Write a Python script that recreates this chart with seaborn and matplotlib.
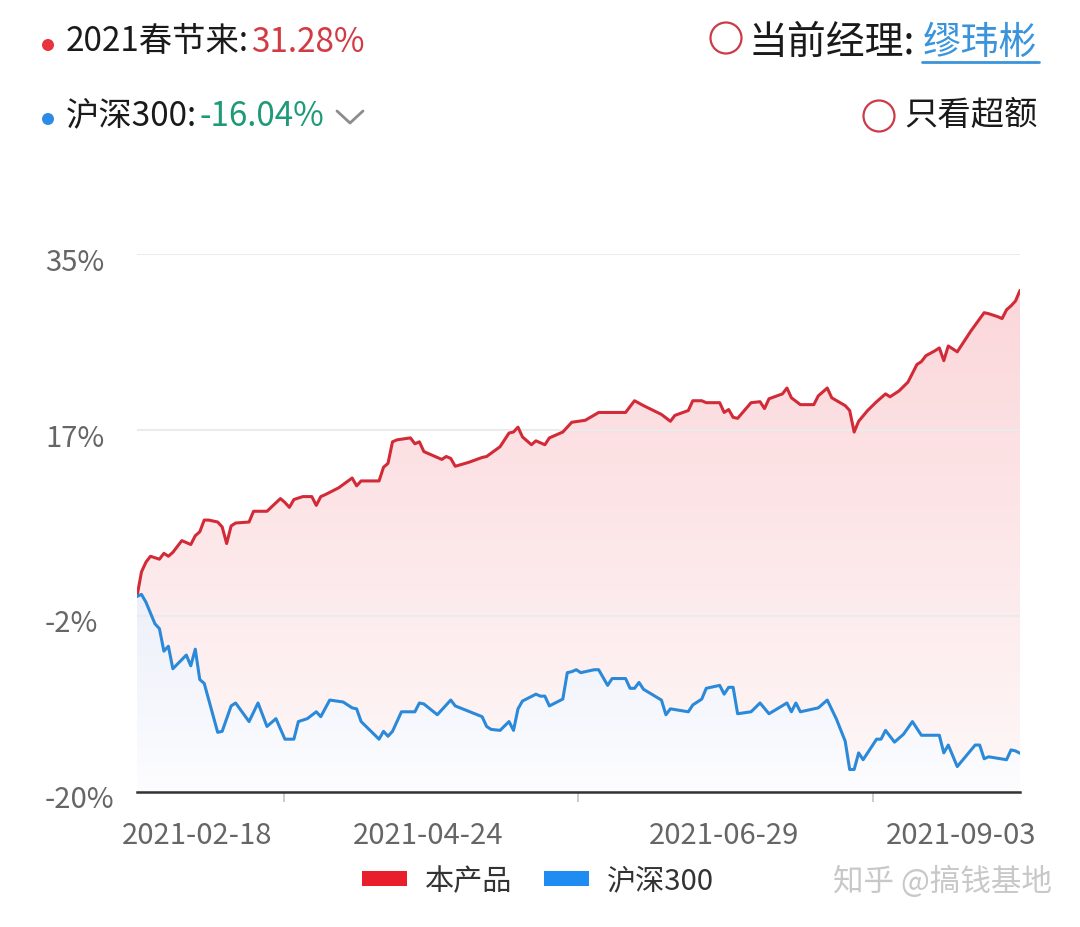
import numpy as np
import pandas as pd
import matplotlib
matplotlib.use("Agg")
import matplotlib.pyplot as plt
import matplotlib.transforms as mtransforms
from matplotlib.patches import PathPatch, Patch, Ellipse
from matplotlib.lines import Line2D
from matplotlib.ticker import FixedLocator
import matplotlib.dates as mdates
import seaborn as sns

# ---------------- data ----------------
START = "2021-02-18"
END = "2021-09-03"
series_names = ["本产品", "沪深300"]

fund_days = [0, 1, 2, 3, 5, 6, 7, 8, 10, 12,
             13, 14, 15, 16, 18, 19, 20, 21, 22, 25,
             26, 29, 32, 33, 34, 35, 37, 39, 40, 41,
             42, 45, 48, 49, 50, 54, 55, 56, 57, 58,
             61, 62, 63, 64, 67, 68, 69, 70, 71, 74,
             77, 78, 81, 83, 84, 85, 86, 88, 89, 91,
             92, 95, 97, 100, 103, 109, 111, 113, 117, 119,
             120, 123, 124, 126, 127, 130, 131, 132, 133, 134,
             137, 139, 140, 141, 144, 145, 146, 148, 151, 152,
             154, 155, 158, 159, 160, 161, 163, 165, 167, 168,
             170, 172, 174, 175, 176, 178, 179, 180, 181, 183,
             184, 186, 189, 190, 192, 193, 194, 195, 196, 197]
fund_vals = [0.0, 2.5, 3.5, 4.1, 3.8, 4.4, 4.1, 4.5, 5.7, 5.3,
             6.2, 6.6, 7.8, 7.8, 7.6, 7.1, 5.4, 7.2, 7.5, 7.6,
             8.7, 8.7, 10.0, 9.6, 9.1, 9.9, 10.2, 10.2, 9.3, 10.2,
             10.4, 11.1, 12.1, 11.3, 11.8, 11.8, 13.2, 13.6, 15.8, 16.0,
             16.2, 15.6, 15.8, 14.8, 14.2, 14.0, 14.3, 14.1, 13.3, 13.7,
             14.2, 14.3, 15.3, 16.7, 16.8, 17.3, 16.3, 15.5, 15.9, 15.5,
             16.2, 16.8, 17.8, 18.0, 18.8, 18.8, 20.0, 19.5, 18.6, 17.9,
             18.5, 19.0, 20.0, 20.0, 19.8, 19.8, 18.8, 19.1, 18.3, 18.2,
             19.8, 19.9, 19.2, 20.2, 20.7, 21.3, 20.3, 19.6, 19.6, 20.5,
             21.3, 20.3, 19.5, 19.0, 16.8, 17.9, 19.0, 19.9, 20.7, 20.4,
             21.0, 21.9, 23.7, 24.0, 24.6, 25.1, 25.4, 24.1, 25.6, 25.0,
             25.7, 27.1, 29.0, 28.9, 28.6, 28.4, 29.3, 29.7, 30.2, 31.28]

index_days = [0, 1, 2, 4, 5, 6, 7, 8, 11, 12,
              13, 14, 15, 18, 19, 21, 22, 25, 27, 29,
              31, 33, 35, 36, 38, 40, 41, 43, 46, 48,
              49, 50, 54, 55, 56, 57, 59, 62, 63, 64,
              67, 70, 71, 77, 78, 79, 81, 83, 84, 85,
              86, 89, 90, 91, 92, 95, 96, 97, 98, 99,
              102, 103, 105, 106, 109, 110, 111, 112, 113, 117,
              118, 119, 123, 124, 126, 127, 130, 131, 132, 133,
              134, 137, 139, 141, 145, 146, 147, 148, 152, 154,
              156, 158, 159, 160, 161, 162, 165, 166, 167, 169,
              171, 173, 175, 179, 180, 181, 183, 185, 187, 188,
              189, 190, 194, 195, 196, 197]
index_vals = [0.0, 0.2, -0.6, -2.8, -3.3, -5.6, -5.1, -7.4, -6.0, -7.1,
              -5.4, -8.5, -8.9, -13.9, -13.8, -11.2, -10.9, -12.8, -10.9, -13.3,
              -12.5, -14.6, -14.6, -12.8, -12.5, -11.8, -12.3, -10.6, -10.8, -11.4,
              -11.5, -12.8, -14.6, -13.8, -14.3, -13.8, -11.8, -11.8, -10.9, -11.0,
              -12.1, -10.6, -11.2, -12.3, -13.3, -13.6, -13.7, -12.8, -13.7, -11.5,
              -10.7, -10.0, -10.2, -10.2, -11.2, -10.5, -7.8, -7.7, -7.5, -7.8,
              -7.5, -7.5, -9.1, -8.4, -8.4, -9.4, -9.4, -8.8, -9.5, -10.6,
              -12.1, -11.5, -11.8, -11.1, -10.5, -9.4, -9.1, -10.0, -9.3, -9.3,
              -12.0, -11.8, -10.9, -12.0, -10.9, -11.8, -10.9, -11.8, -11.4, -10.6,
              -12.5, -14.8, -17.7, -17.7, -16.0, -16.7, -14.6, -14.6, -13.7, -14.9,
              -14.1, -12.8, -14.2, -14.2, -16.0, -15.2, -17.4, -16.3, -15.2, -15.2,
              -16.6, -16.4, -16.7, -15.7, -15.8, -16.04]

y_ticks = [-20, -2, 17, 35]
y_tick_labels = ["-20%", "-2%", "17%", "35%"]
x_tick_dates = ["2021-02-18", "2021-04-24", "2021-06-29", "2021-09-03"]

header_fund_label = "2021春节来:"
header_fund_value = "31.28%"
header_index_label = "沪深300:"
header_index_value = "-16.04%"
manager_label = "当前经理:"
manager_name = "缪玮彬"
excess_label = "只看超额"
watermark = "知乎 @搞钱基地"

# ---------------- style ----------------
RED_LINE = "#d32a38"
BLUE_LINE = "#2b89d9"
RED_LEG = "#e81e2d"
BLUE_LEG = "#1e8cf0"
TXT = "#1a1a1a"
AXTXT = "#666666"

sns.set_theme(style="white")
plt.rcParams["font.family"] = ["Noto Sans CJK SC", "DejaVu Sans"]

W, H = 1080, 928
fig = plt.figure(figsize=(W / 100, H / 100), dpi=100)
fig.patch.set_facecolor("white")
ax = fig.add_axes([137 / W, 1 - 793 / H, 883 / W, 538 / H])
ax.set_facecolor("white")

start = pd.Timestamp(START)
df = pd.concat([
    pd.DataFrame({"date": start + pd.to_timedelta(fund_days, unit="D"),
                  "value": fund_vals, "series": series_names[0]}),
    pd.DataFrame({"date": start + pd.to_timedelta(index_days, unit="D"),
                  "value": index_vals, "series": series_names[1]}),
], ignore_index=True)

YMIN, YMAX = -20, 35


def gradient_area(xnum, yvals, ytop, c_top, c_bot, z):
    coll = ax.fill_between(xnum, yvals, YMIN, facecolor="none",
                           edgecolor="none", linewidth=0)
    path = coll.get_paths()[0]
    clip = PathPatch(path, transform=ax.transData, facecolor="none",
                     edgecolor="none")
    ax.add_patch(clip)
    t = np.linspace(0, 1, 256)[:, None, None]
    ct = np.array(c_top, dtype=float)[None, None, :] / 255.0
    cb = np.array(c_bot, dtype=float)[None, None, :] / 255.0
    img = ct * (1 - t) + cb * t
    im = ax.imshow(img, aspect="auto", origin="upper",
                   extent=[xnum.min(), xnum.max(), YMIN, ytop],
                   zorder=z, interpolation="bilinear")
    im.set_clip_path(clip)


fund_df = df[df.series == series_names[0]]
index_df = df[df.series == series_names[1]]
gradient_area(mdates.date2num(fund_df.date), fund_df.value.values, YMAX,
              (251, 212, 216), (254, 248, 248), 0.2)
gradient_area(mdates.date2num(index_df.date), index_df.value.values, 0,
              (237, 240, 250), (253, 253, 255), 0.3)

sns.lineplot(data=df, x="date", y="value", hue="series",
             palette={series_names[0]: RED_LINE, series_names[1]: BLUE_LINE},
             linewidth=2.2, legend=False, estimator=None, ax=ax, zorder=3)

# axes limits and ticks
x0, x1 = pd.Timestamp(START), pd.Timestamp(END)
ax.set_xlim(x0, x1)
ax.set_ylim(YMIN, YMAX)
ax.set_xlabel("")
ax.set_ylabel("")

ax.set_yticks(y_ticks)
ax.set_yticklabels(y_tick_labels)
ax.tick_params(axis="y", length=0, pad=92 * 0.72, labelsize=21,
               labelcolor=AXTXT)
for lab in ax.get_yticklabels():
    lab.set_horizontalalignment("left")

ax.set_xticks(pd.to_datetime(x_tick_dates))
ax.set_xticklabels(x_tick_dates)
ax.tick_params(axis="x", which="major", length=0, pad=20, labelsize=21,
               labelcolor=AXTXT)
span = x1 - x0
ax.xaxis.set_minor_locator(FixedLocator(
    mdates.date2num([x0 + span / 6, x0 + span / 2, x0 + span * 5 / 6])))
ax.tick_params(axis="x", which="minor", length=7, width=1.4,
               color="#cccccc", direction="out", bottom=True)

ax.set_axisbelow(True)
ax.yaxis.grid(True, color="#ebebeb", linewidth=1.5)
ax.xaxis.grid(False)
for s in ["top", "right", "left"]:
    ax.spines[s].set_visible(False)
ax.spines["bottom"].set_color("#333333")
ax.spines["bottom"].set_linewidth(1.8)
ax.spines["bottom"].set_zorder(4)

# ---------------- header ----------------
def px(x, y):
    return (x / W, 1 - y / H)


fig.canvas.draw()
renderer = fig.canvas.get_renderer()


def text_chain(x, y, parts, size=24):
    cur = x
    for s, c in parts:
        t = fig.text(cur / W, 1 - y / H, s, fontsize=size, color=c,
                     ha="left", va="center")
        bb = t.get_window_extent(renderer)
        cur = bb.x1 + 2


fig.add_artist(Ellipse(px(48, 46), 12 / W, 12 / H, transform=fig.transFigure,
                       facecolor="#e8323c", edgecolor="none"))
text_chain(66, 42, [(header_fund_label, TXT), (header_fund_value, "#d23a44")])

fig.add_artist(Ellipse(px(48, 120), 12 / W, 12 / H, transform=fig.transFigure,
                       facecolor="#2a8ce6", edgecolor="none"))
text_chain(66, 116, [(header_index_label, TXT), (header_index_value, "#1f9a78")])
fig.add_artist(Line2D([337 / W, 350 / W, 363 / W],
                      [1 - 112 / H, 1 - 124 / H, 1 - 112 / H],
                      transform=fig.transFigure, color="#8c8c8c",
                      linewidth=2.0))

# right header
fig.add_artist(Ellipse(px(726, 39), 31 / W, 31 / H, transform=fig.transFigure,
                       facecolor="none", edgecolor="#cc3b48", linewidth=1.6))
t_name = fig.text(1037 / W, 1 - 43 / H, manager_name, fontsize=27.5,
                  color="#3a94dc", ha="right", va="center")
bb_name = t_name.get_window_extent(renderer)
fig.text((bb_name.x0 - 7) / W, 1 - 43 / H, manager_label, fontsize=28,
         color=TXT, ha="right", va="center")
fig.add_artist(Line2D([bb_name.x0 / W, (bb_name.x1 + 2) / W],
                      [1 - 63 / H, 1 - 63 / H],
                      transform=fig.transFigure, color="#3a94dc",
                      linewidth=2.0))

fig.add_artist(Ellipse(px(879, 117), 31 / W, 31 / H, transform=fig.transFigure,
                       facecolor="none", edgecolor="#cc3b48", linewidth=1.6))
fig.text(1038 / W, 1 - 115 / H, excess_label, fontsize=24, color=TXT,
         ha="right", va="center")

# ---------------- legend & watermark ----------------
handles = [Patch(facecolor=RED_LEG, edgecolor="none"),
           Patch(facecolor=BLUE_LEG, edgecolor="none")]
fig.legend(handles=handles, labels=series_names, loc="center",
           bbox_to_anchor=(538 / W, 1 - 882 / H), ncol=2, frameon=False,
           fontsize=21, handlelength=1.55, handleheight=0.4,
           handletextpad=0.6, columnspacing=1.1, labelcolor="#333333")

fig.text(1052 / W, 1 - 882 / H, watermark, fontsize=22, color="#c8c8c8",
         ha="right", va="center")

# ---------------- tick label fine placement ----------------
fig.canvas.draw()


def off(dx, dy):
    return mtransforms.ScaledTranslation(dx / 100, dy / 100, fig.dpi_scale_trans)


xl = ax.get_xticklabels()
xl[0].set_transform(xl[0].get_transform() + off(60, 0))
xl[-1].set_transform(xl[-1].get_transform() + off(-59, 0))
for lab in ax.get_yticklabels():
    lab.set_transform(lab.get_transform() + off(0, -4))

fig.savefig("out.png", dpi=100, facecolor="white")
